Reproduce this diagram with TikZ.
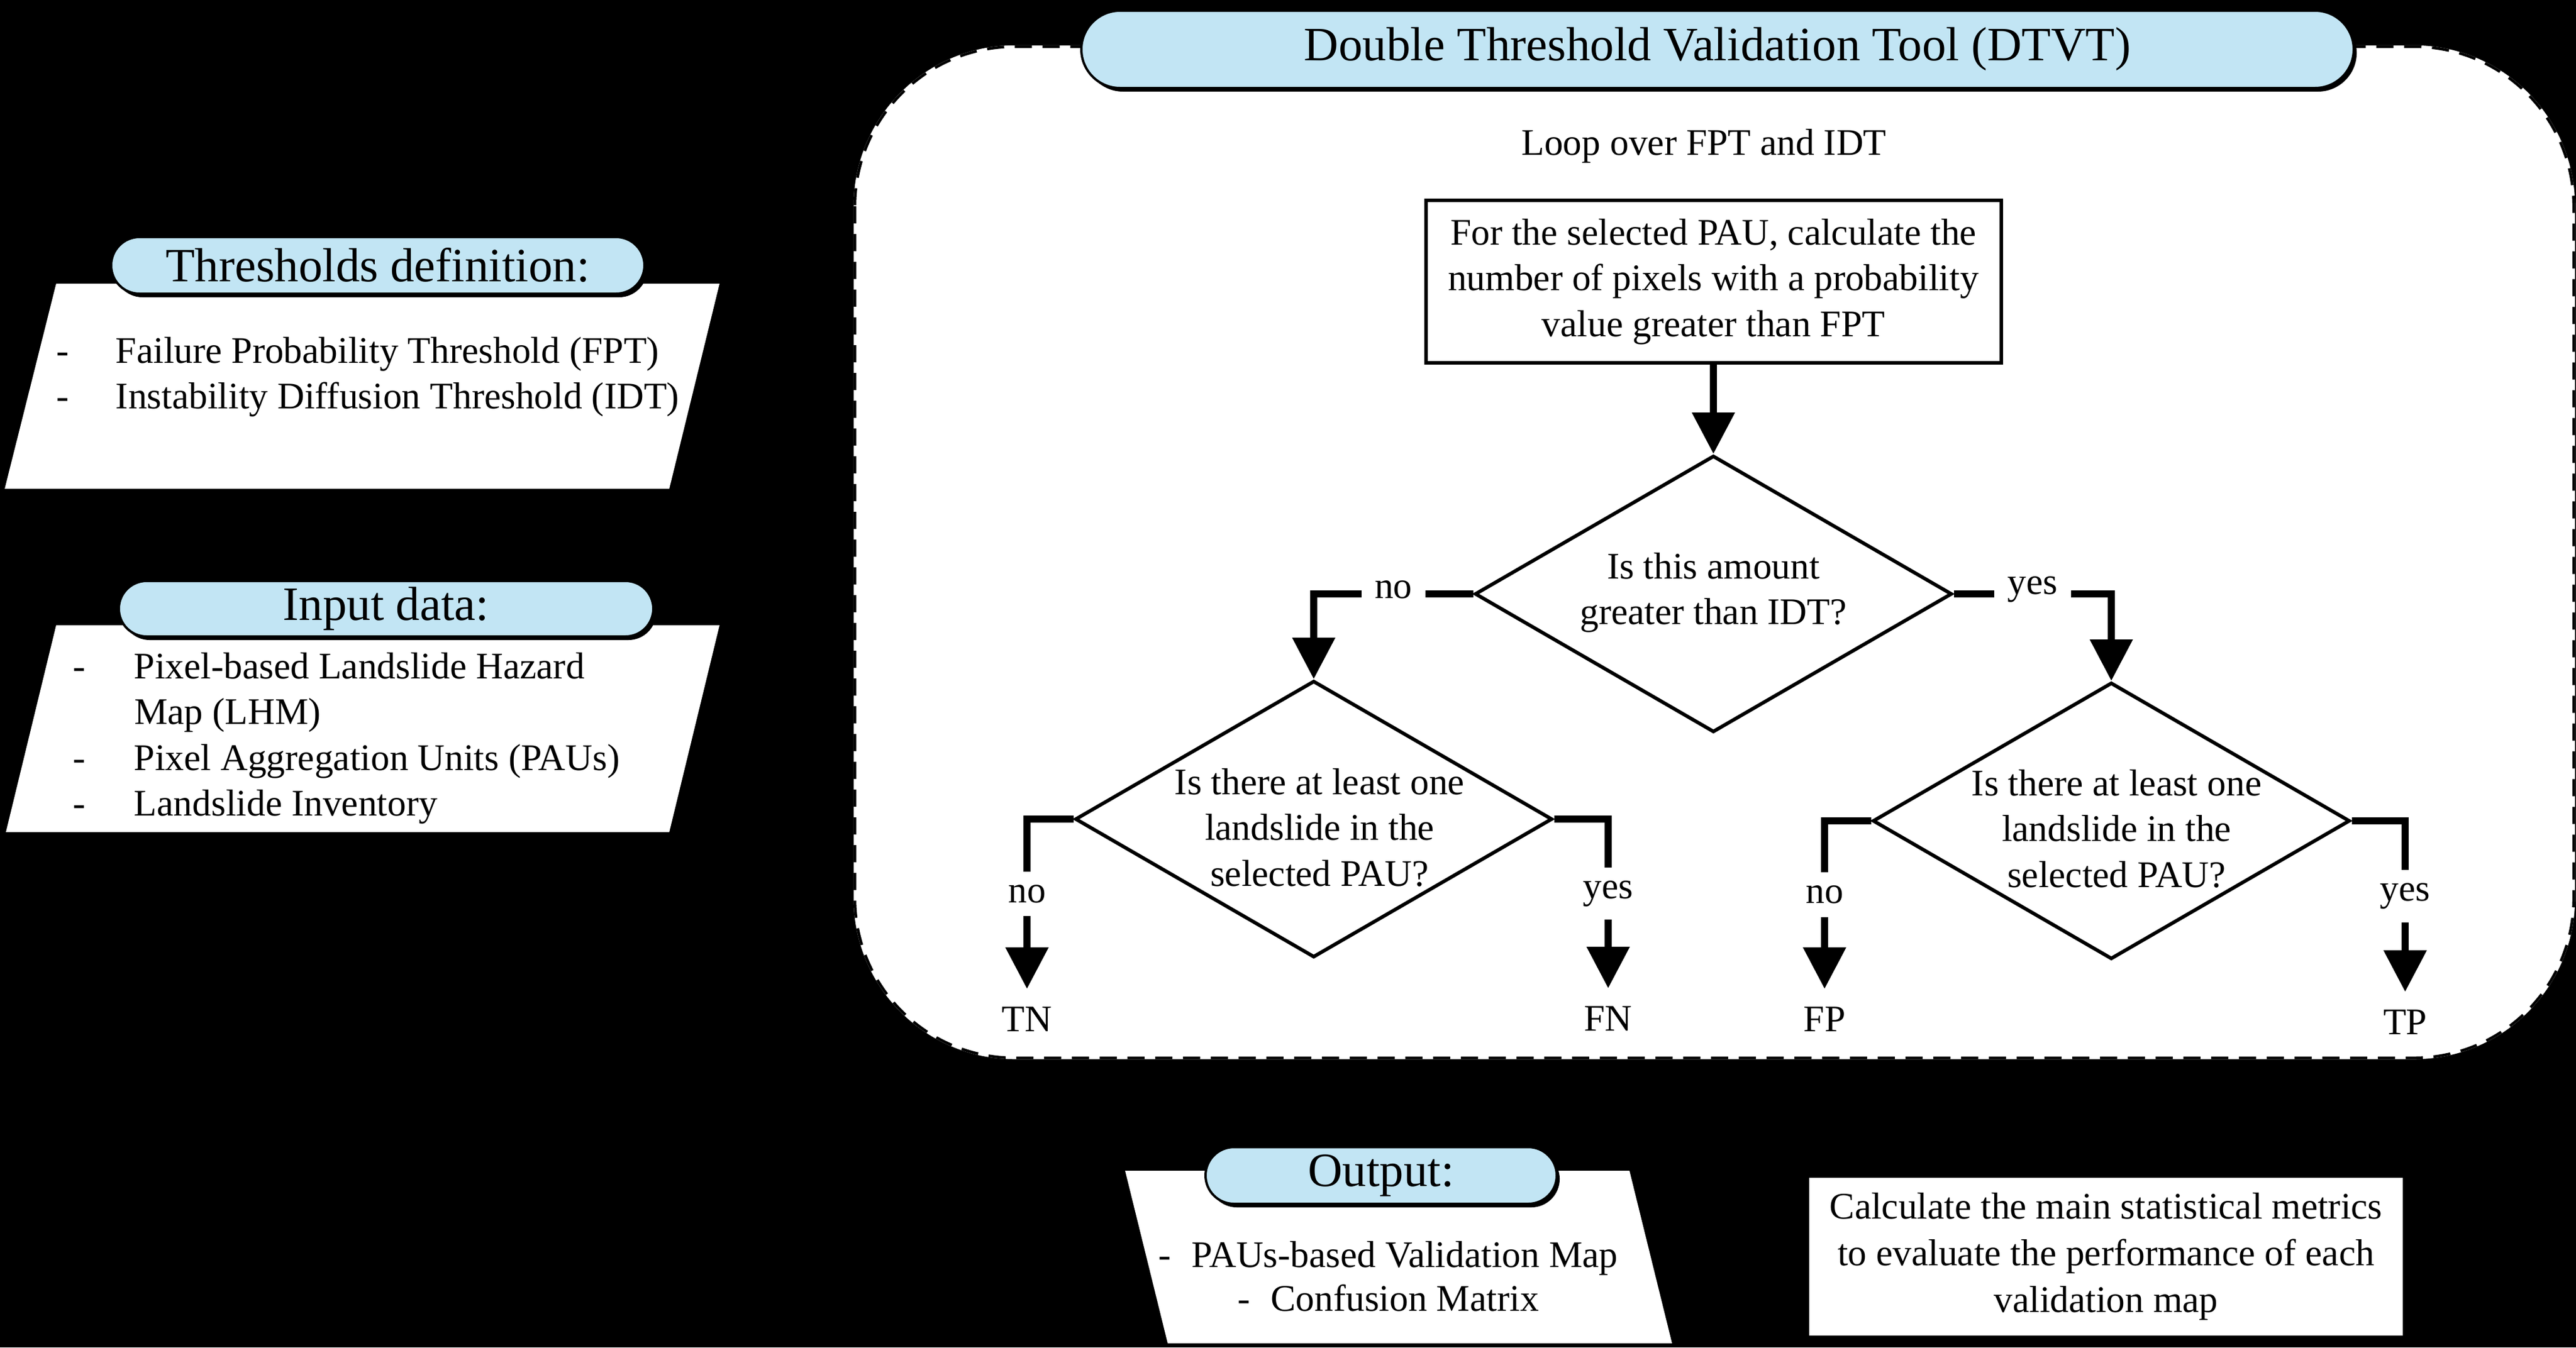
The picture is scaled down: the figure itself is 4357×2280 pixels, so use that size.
\documentclass[tikz,border=0pt]{standalone}
\usepackage{fontspec}
\setmainfont{Liberation Serif}
\usetikzlibrary{shapes.geometric,shapes.misc,shadows,arrows.meta}
\definecolor{pillblue}{RGB}{194,229,244}
\begin{document}
\begin{tikzpicture}[x=0.2pt,y=-0.2pt,
  body/.style={font=\fontsize{12.7}{15.5}\selectfont},
  pill/.style={rounded rectangle,draw=black,line width=0.8pt,fill=pillblue,inner sep=0pt,
    font=\fontsize{16.2}{19}\selectfont,
    drop shadow={shadow xshift=1pt,shadow yshift=-1.2pt,opacity=1,fill=black}},
  flow/.style={line width=2.3pt,-{Triangle[width=14pt,length=14pt]}},
  lbl/.style={body,fill=white,inner xsep=4.5pt,inner ysep=4.5pt},
  outcome/.style={body,inner xsep=0pt,inner ysep=6pt},
  decision/.style={diamond,draw=black,line width=1.2pt,inner sep=0pt,
    minimum width=161.4pt,minimum height=93.6pt},
  framebox/.style={rounded corners=54pt,line width=0.9pt}]
\useasboundingbox (0,0) rectangle (4357,2280);
\fill[black] (0,0) rectangle (4357,2280);

% left input parallelograms
\fill[white] (95,480) -- (1217,480) -- (1132,827) -- (8,827) -- cycle;
\fill[white] (95,1058) -- (1217,1058) -- (1132,1408) -- (10,1408) -- cycle;
\node[body,anchor=west,inner sep=0pt] (thrlist) at (94,637.5)
  {\begin{tabular}{@{}p{20.2pt}@{}l@{}}-&Failure Probability Threshold (FPT)\\-&Instability Diffusion Threshold (IDT)\end{tabular}};
\node[body,anchor=west,inner sep=0pt] (inlist) at (122,1249)
  {\begin{tabular}{@{}p{20.8pt}@{}l@{}}-&Pixel-based Landslide Hazard\\&Map (LHM)\\-&Pixel Aggregation Units (PAUs)\\-&Landslide Inventory\end{tabular}};
\node[pill,minimum width=180.4pt,minimum height=19.2pt] (thr) at (639,449) {Thresholds definition:};
\node[pill,minimum width=180.8pt,minimum height=18.8pt] (inp) at (653,1030) {Input data:};

% DTVT frame
\path[framebox,fill=white,draw=white] (1446,79) rectangle (4353,1790);
\draw[framebox,black,dash pattern=on 5.8pt off 3.6pt] (1446,79) rectangle (4353,1790);
\node[pill,minimum width=430.4pt,minimum height=26.2pt] (dtvt) at (2905,83.5) {Double Threshold Validation Tool (DTVT)};

\node[body] (loop) at (2882,247) {Loop over FPT and IDT};
\node[body,draw=black,line width=1.2pt,fill=white,align=center,inner sep=0pt,
  minimum width=194.6pt,minimum height=55pt] (calc) at (2898,476.5)
  {For the selected PAU, calculate the\\number of pixels with a probability\\value greater than FPT};

\node[decision] (d1) at (2898,1005) {};
\node[decision] (d2) at (2222,1386) {};
\node[decision] (d3) at (3571,1389) {};
\node[body,align=center] (d1t) at (2898,1003) {Is this amount\\greater than IDT?};
\node[body,align=center] (d2t) at (2232,1400) {Is there at least one\\landslide in the\\selected PAU?};
\node[body,align=center] (d3t) at (3580,1402) {Is there at least one\\landslide in the\\selected PAU?};

\node[outcome] (tn) at (1737,1725) {TN};
\node[outcome] (fn) at (2720,1724) {FN};
\node[outcome] (fp) at (3086,1725) {FP};
\node[outcome] (tp) at (4068,1730) {TP};

\draw[flow] (calc.south) -- (d1.north);
\draw[flow] (d1.west) -| node[lbl,pos=0.25,yshift=1.5pt]{no} (d2.north);
\draw[flow] (d1.east) -| node[lbl,pos=0.25,yshift=1.5pt]{yes} (d3.north);
\draw[flow] (d2.west) -| node[lbl,pos=0.72]{no} (tn.north);
\draw[flow] (d2.east) -| node[lbl,pos=0.72]{yes} (fn.north);
\draw[flow] (d3.west) -| node[lbl,pos=0.72]{no} (fp.north);
\draw[flow] (d3.east) -| node[lbl,pos=0.72]{yes} (tp.north);

% output
\fill[white] (1903,1981) -- (2756,1981) -- (2828,2273) -- (1975,2273) -- cycle;
\node[body,align=center,font=\fontsize{12.7}{14.8}\selectfont] (outlist) at (2348,2160)
  {-\hspace{7pt}PAUs-based Validation Map\\-\hspace{7pt}Confusion Matrix};
\node[pill,minimum width=118.8pt,minimum height=19.2pt] (outp) at (2336,1989) {Output:};

\node[body,fill=white,align=center,inner sep=0pt,minimum width=200.8pt,minimum height=53.4pt,
  font=\fontsize{12.7}{15.8}\selectfont] (metrics) at (3562,2126.5)
  {Calculate the main statistical metrics\\to evaluate the performance of each\\validation map};
\end{tikzpicture}
\end{document}
